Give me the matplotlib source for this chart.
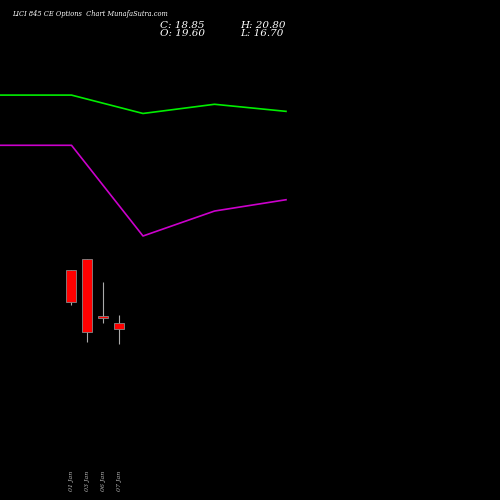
import matplotlib
matplotlib.use("Agg")
import matplotlib.pyplot as plt

dates = ["01 Jan", "03 Jan", "06 Jan", "07 Jan"]
opens = [27.15, 28.70, 20.66, 19.60]
closes = [22.65, 18.40, 20.38, 18.85]
highs = [27.15, 28.70, 25.47, 20.80]
lows = [22.20, 17.00, 19.67, 16.70]

line_x = [0, 1, 2, 3, 4]
green_line = [51.9, 51.9, 49.3, 50.6, 49.6]
purple_line = [44.8, 44.8, 31.97, 35.5, 37.1]

fig = plt.figure(figsize=(5, 5), dpi=100, facecolor="black")
ax = fig.add_axes([0, 0, 1, 1], facecolor="black")
ax.set_xlim(-4.4375, 26.8125)
ax.set_ylim(-5.37, 65.35)
ax.axis("off")

for i, (o, c, h, l) in enumerate(zip(opens, closes, highs, lows)):
    ax.vlines(i, l, h, color="#aaaaaa", lw=0.8, zorder=1)
    bottom, top = min(o, c), max(o, c)
    ax.bar(i, max(top - bottom, 0.25), bottom=bottom, width=0.6,
           color="red", edgecolor="#888888", lw=0.6, zorder=2)
    ax.text(i, -1.2, dates[i], rotation=90, color="#bbbbbb", fontsize=4.5,
            family="DejaVu Serif", style="italic", ha="center", va="top")

ax2 = ax.twiny()
ax2.set_xlim(0, 500 / 71.5)
ax2.set_ylim(-5.37, 65.35)
ax2.axis("off")
ax2.plot(line_x, green_line, color="#00ee00", lw=1.2)
ax2.plot(line_x, purple_line, color="#cc00cc", lw=1.2)

fig.text(0.024, 0.972, "LICI 845 CE Options  Chart MunafaSutra.com", color="white",
         fontsize=4.8, family="DejaVu Serif", style="italic", va="center")
fig.text(0.32, 0.950, "C: 18.85", color="white", fontsize=7.5, family="DejaVu Serif", style="italic", va="center")
fig.text(0.32, 0.933, "O: 19.60", color="white", fontsize=7.5, family="DejaVu Serif", style="italic", va="center")
fig.text(0.48, 0.950, "H: 20.80", color="white", fontsize=7.5, family="DejaVu Serif", style="italic", va="center")
fig.text(0.48, 0.933, "L: 16.70", color="white", fontsize=7.5, family="DejaVu Serif", style="italic", va="center")

fig.savefig("out.png", dpi=100, facecolor="black")
